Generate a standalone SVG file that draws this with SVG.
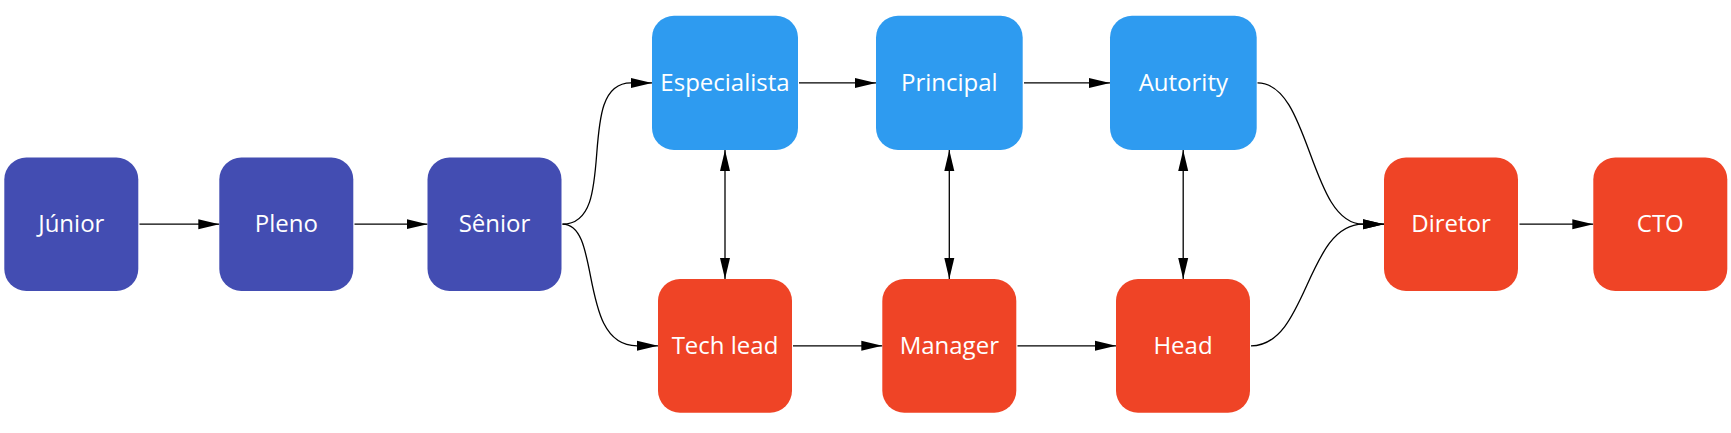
<svg xmlns="http://www.w3.org/2000/svg" width="1731" height="433" viewBox="0 0 1731 433">
<style>
.n rect{rx:22px;ry:22px}
.dark rect{fill:#434DB2}
.light rect{fill:#2E9BF0}
.red rect{fill:#EF4426}
.n text{font-family:"Open Sans","Noto Sans","Liberation Sans",sans-serif;font-size:24px;fill:#FFFFFF;text-anchor:middle}
.c path{fill:none;stroke:#000;stroke-width:1.3}
</style>
<defs>
<marker id="ah" markerUnits="userSpaceOnUse" markerWidth="22" markerHeight="12" refX="21" refY="5" orient="auto-start-reverse" viewBox="0 0 22 10">
<path d="M0,0 L21,5 L0,10 z" fill="#000"/>
</marker>
</defs>
<rect width="1731" height="433" fill="#FFFFFF"/>
<g id="connectors" class="c">
<path d="M139.5,224.2 H219.3" marker-end="url(#ah)"/>
<path d="M354.5,224.2 H427.5" marker-end="url(#ah)"/>
<path d="M562.5,224.2 C620.5,224.2 573,82.9 631,82.9 L652,82.9" marker-end="url(#ah)"/>
<path d="M562.5,224.2 C602.5,224.2 577,345.8 637,345.8 L658,345.8" marker-end="url(#ah)"/>
<path d="M799,82.9 H876" marker-end="url(#ah)"/>
<path d="M1024,82.9 H1110" marker-end="url(#ah)"/>
<path d="M793,345.8 H882.3" marker-end="url(#ah)"/>
<path d="M1017.5,345.8 H1116" marker-end="url(#ah)"/>
<path d="M1257.5,82.9 C1311,82.9 1309,224.2 1363,224.2 L1384,224.2" marker-end="url(#ah)"/>
<path d="M1251,345.8 C1308,345.8 1306,224.2 1363,224.2 L1384,224.2" marker-end="url(#ah)"/>
<path d="M1519.5,224.2 H1593.3" marker-end="url(#ah)"/>
<path d="M725,150 V279" marker-start="url(#ah)" marker-end="url(#ah)"/>
<path d="M949.3,150 V279" marker-start="url(#ah)" marker-end="url(#ah)"/>
<path d="M1183.2,150 V279" marker-start="url(#ah)" marker-end="url(#ah)"/>
</g>
<g id="junior" class="n dark"><rect x="4.3" y="157.5" width="134" height="133.5"/><text x="71.3" y="232.2">Júnior</text></g>
<g id="pleno" class="n dark"><rect x="219.3" y="157.5" width="134" height="133.5"/><text x="286.3" y="232.2">Pleno</text></g>
<g id="senior" class="n dark"><rect x="427.5" y="157.5" width="134" height="133.5"/><text x="494.5" y="232.2">Sênior</text></g>
<g id="especialista" class="n light"><rect x="652" y="15.75" width="146" height="134.25"/><text x="725" y="90.9">Especialista</text></g>
<g id="principal" class="n light"><rect x="876" y="15.75" width="146.7" height="134.25"/><text x="949.35" y="90.9">Principal</text></g>
<g id="autority" class="n light"><rect x="1110" y="15.75" width="146.7" height="134.25"/><text x="1183.35" y="90.9">Autority</text></g>
<g id="techlead" class="n red"><rect x="658" y="279" width="134" height="133.7"/><text x="725" y="353.8">Tech lead</text></g>
<g id="manager" class="n red"><rect x="882.3" y="279" width="134" height="133.7"/><text x="949.3" y="353.8">Manager</text></g>
<g id="head" class="n red"><rect x="1116" y="279" width="134" height="133.7"/><text x="1183" y="353.8">Head</text></g>
<g id="diretor" class="n red"><rect x="1384" y="157.5" width="134" height="133.5"/><text x="1451" y="232.2">Diretor</text></g>
<g id="cto" class="n red"><rect x="1593.3" y="157.5" width="134" height="133.5"/><text x="1660.3" y="232.2">CTO</text></g>
</svg>
